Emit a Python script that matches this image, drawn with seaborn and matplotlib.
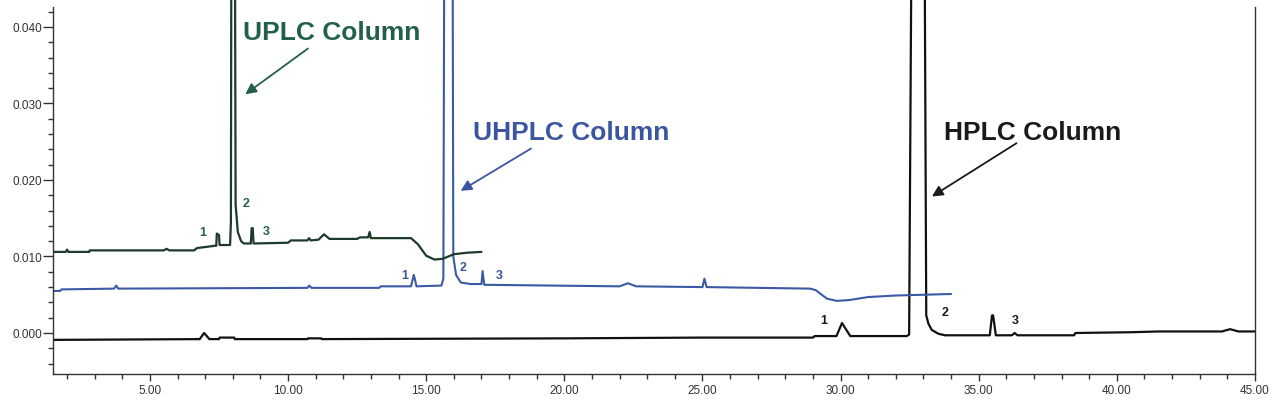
import numpy as np
import pandas as pd
import seaborn as sns
import matplotlib.pyplot as plt
from matplotlib.ticker import MultipleLocator, FormatStrFormatter

# UPLC trace (time in min, absorbance in AU)
uplc_t = [1.50, 1.95, 2.00, 2.05, 2.80, 2.82, 5.50, 5.60, 5.70, 6.60, 6.70, 7.35,
          7.40, 7.42, 7.50, 7.52, 7.90, 7.93, 7.95, 8.07, 8.10, 8.18, 8.30, 8.40,
          8.65, 8.68, 8.72, 8.75, 10.0, 10.1, 10.7, 10.76, 10.82, 11.1, 11.3, 11.5,
          12.5, 12.6, 12.9, 12.95, 13.0, 14.45, 14.7, 15.0, 15.3, 15.6, 16.0, 16.5, 17.0]
uplc_a = [0.0106, 0.0106, 0.0109, 0.0106, 0.0106, 0.0108, 0.0108, 0.0110, 0.0108, 0.0108, 0.0111, 0.0114,
          0.0114, 0.0130, 0.0128, 0.0115, 0.0115, 0.0145, 0.0600, 0.0600, 0.0168, 0.0132, 0.0120, 0.0117,
          0.0117, 0.0137, 0.0137, 0.0117, 0.0118, 0.0121, 0.0121, 0.0124, 0.0121, 0.0122, 0.0129, 0.0123,
          0.0123, 0.0125, 0.0125, 0.0132, 0.0124, 0.0124, 0.0116, 0.0101, 0.0096, 0.0097, 0.0103, 0.0105, 0.0106]

# UHPLC trace
uhplc_t = [1.50, 1.75, 1.80, 3.70, 3.78, 3.85, 10.7, 10.76, 10.85, 13.3, 13.35, 14.45,
           14.55, 14.65, 15.55, 15.62, 15.66, 15.95, 15.98, 16.08, 16.25, 16.6, 17.00, 17.04,
           17.10, 22.0, 22.3, 22.6, 25.0, 25.07, 25.15, 28.9, 29.1, 29.5, 29.85, 30.3,
           31.0, 32.0, 33.0, 34.0]
uhplc_a = [0.0055, 0.0055, 0.0057, 0.0058, 0.0062, 0.0058, 0.0059, 0.0062, 0.0059, 0.0059, 0.0061, 0.0061,
           0.0076, 0.0061, 0.0062, 0.0071, 0.0600, 0.0600, 0.0100, 0.0076, 0.0066, 0.0064, 0.0064, 0.0081,
           0.0063, 0.0061, 0.0065, 0.0061, 0.0060, 0.0071, 0.0060, 0.0058, 0.0056, 0.0045, 0.0042, 0.0043,
           0.0047, 0.0049, 0.0050, 0.0051]

# HPLC trace
hplc_t = [1.50, 6.80, 6.96, 7.15, 7.50, 7.52, 8.05, 8.07, 10.7, 10.72, 11.2, 11.22,
          20.0, 25.0, 29.0, 29.06, 29.85, 30.05, 30.35, 32.40, 32.48, 32.58, 33.03, 33.10,
          33.18, 33.30, 33.54, 33.78, 35.40, 35.48, 35.52, 35.62, 36.2, 36.3, 36.4, 38.45,
          38.5, 40.5, 41.5, 43.8, 44.1, 44.4, 45.0]
hplc_a = [-0.0009, -0.0008, 0.0000, -0.0008, -0.0008, -0.0006, -0.0006, -0.0008, -0.0008, -0.0007, -0.0007, -0.0008,
          -0.0007, -0.0006, -0.0006, -0.0004, -0.0004, 0.0013, -0.0004, -0.0004, -0.0002, 0.0600, 0.0600, 0.0023,
          0.0012, 0.0004, -0.0001, -0.0003, -0.0003, 0.0023, 0.0023, -0.0003, -0.0003, 0.0000, -0.0003, -0.0003,
          0.0000, 0.0001, 0.0002, 0.0002, 0.0005, 0.0002, 0.0002]

c_uplc, t_uplc = "#1e3a2b", "#23604a"
c_uhplc, t_uhplc = "#3a5aa5", "#3b55a0"
c_hplc, t_hplc = "#111111", "#1a1a1a"

sns.set_style("white")
plt.rcParams["font.family"] = ["Liberation Sans", "DejaVu Sans"]

fig = plt.figure(figsize=(12.8, 4.02), dpi=100)
ax = fig.add_axes([53 / 1280, 27 / 402, (1255 - 53) / 1280, 1 - 27 / 402])

sns.lineplot(x=hplc_t, y=hplc_a, color=c_hplc, lw=1.6, sort=False, estimator=None, ax=ax)
sns.lineplot(x=uhplc_t, y=uhplc_a, color=c_uhplc, lw=1.5, sort=False, estimator=None, ax=ax)
sns.lineplot(x=uplc_t, y=uplc_a, color=c_uplc, lw=1.6, sort=False, estimator=None, ax=ax)

ax.set_xlim(1.49, 45.0)
ax.set_ylim(-0.00536, 0.04366)

ax.xaxis.set_major_locator(MultipleLocator(5))
ax.xaxis.set_minor_locator(MultipleLocator(1))
ax.xaxis.set_major_formatter(FormatStrFormatter("%.2f"))
ax.yaxis.set_major_locator(MultipleLocator(0.01))
ax.yaxis.set_minor_locator(MultipleLocator(0.002))
ax.yaxis.set_major_formatter(FormatStrFormatter("%.3f"))
ax.tick_params(axis="y", which="major", direction="out", length=7, width=1,
               color="#333333", labelsize=8.5, labelcolor="#333333", pad=1, left=True)
ax.tick_params(axis="x", which="major", direction="out", length=5, width=1,
               color="#333333", labelsize=8.5, labelcolor="#333333", pad=2, bottom=True)
ax.tick_params(axis="both", which="minor", direction="out", length=3.5, width=1,
               color="#333333", bottom=True, left=True)

ax.spines["top"].set_visible(False)
for s in ["left", "bottom", "right"]:
    ax.spines[s].set_color("#333333")
    ax.spines[s].set_linewidth(1.0)
ax.spines["left"].set_bounds(-0.00536, 0.0426)
ax.spines["right"].set_bounds(-0.00536, 0.0426)
ax.set_xlabel("")
ax.set_ylabel("")

# column labels with arrows
arrow_kw = dict(arrowstyle="-|>", lw=1.3, mutation_scale=16)
ax.annotate("", xy=(8.37, 0.0310), xytext=(10.8, 0.0374),
            arrowprops=dict(color=t_uplc, **arrow_kw))
ax.text(8.37, 0.0393, "UPLC Column", color=t_uplc, fontsize=19, fontweight="bold", va="center")

ax.annotate("", xy=(16.16, 0.0184), xytext=(18.88, 0.0243),
            arrowprops=dict(color=t_uhplc, **arrow_kw))
ax.text(16.7, 0.0263, "UHPLC Column", color=t_uhplc, fontsize=19, fontweight="bold", va="center")

ax.annotate("", xy=(33.22, 0.01765), xytext=(36.45, 0.0250),
            arrowprops=dict(color=t_hplc, **arrow_kw))
ax.text(33.73, 0.0263, "HPLC Column", color=t_hplc, fontsize=19, fontweight="bold", va="center")

# peak numbers
peak_labels = ["1", "2", "3"]
uplc_lab_x, uplc_lab_y = [6.92, 8.48, 9.20], [0.0132, 0.0170, 0.0133]
uhplc_lab_x, uhplc_lab_y = [14.24, 16.34, 17.64], [0.0076, 0.0086, 0.0076]
hplc_lab_x, hplc_lab_y = [29.38, 33.77, 36.34], [0.0017, 0.0027, 0.0017]
for xs, ys, col in [(uplc_lab_x, uplc_lab_y, t_uplc), (uhplc_lab_x, uhplc_lab_y, t_uhplc),
                    (hplc_lab_x, hplc_lab_y, t_hplc)]:
    for lab, x, y in zip(peak_labels, xs, ys):
        ax.text(x, y, lab, color=col, fontsize=9, fontweight="bold", ha="center", va="center")

fig.savefig("out.png", dpi=100)
